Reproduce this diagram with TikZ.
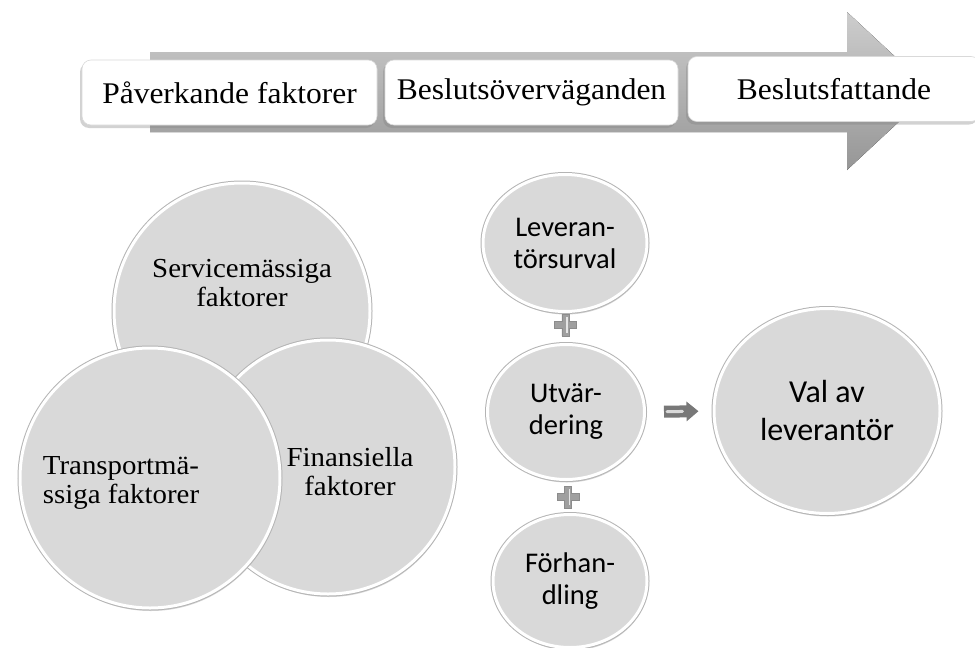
\documentclass[tikz,border=0pt]{standalone}
\usepackage{fontspec}
\usetikzlibrary{shapes.geometric,shadows,arrows.meta,calc}
\newfontfamily\serf[FakeStretch=1.05]{Liberation Serif}
\newfontfamily\sanf{Carlito}
\definecolor{circfill}{RGB}{217,217,217}
\definecolor{arrtop}{RGB}{205,205,205}
\definecolor{arrbot}{RGB}{150,150,150}
\definecolor{rimgray}{RGB}{180,180,180}
\definecolor{darkarr}{RGB}{120,120,120}
\tikzset{
  stagebox/.style={rectangle, rounded corners=9pt, fill=white, draw=gray!30,
    line width=0.6pt,
    drop shadow={shadow xshift=-2pt, shadow yshift=-3pt, opacity=0.35},
    minimum height=65pt, inner sep=0pt,
    font=\serf\fontsize{30}{32}\selectfont},
  ball/.style={circle, drop shadow={shadow xshift=1pt, shadow yshift=-3pt, opacity=0.32},
    preaction={draw=rimgray, line width=5pt},
    fill=circfill, draw=white, line width=3pt, inner sep=0pt},
  egg/.style={ellipse, drop shadow={shadow xshift=1pt, shadow yshift=-3pt, opacity=0.32},
    preaction={draw=rimgray, line width=5pt},
    fill=circfill, draw=white, line width=3pt, inner sep=0pt, align=center},
  balltext/.style={font=\serf\fontsize{27.5}{29}\selectfont, align=center, inner sep=0pt},
  eggtext/.style={font=\sanf\fontsize{28.5}{32}\selectfont},
  bigtext/.style={font=\sanf\fontsize{32}{38}\selectfont},
  plussign/.pic={
    \filldraw[fill=gray!75, draw=gray!90, line width=0.6pt]
      (-3.5,-11) -- (3.5,-11) -- (3.5,-3.5) -- (11,-3.5) -- (11,3.5) -- (3.5,3.5)
      -- (3.5,11) -- (-3.5,11) -- (-3.5,3.5) -- (-11,3.5) -- (-11,-3.5) -- (-3.5,-3.5) -- cycle;
    \draw[white!80!gray, line width=1.5pt] (1.5,-8) -- (1.5,8);
  },
  blockarrow/.style={line width=12pt, draw=darkarr,
    -{Triangle[length=12pt,width=19pt]}},
  blockshine/.style={line width=3pt, draw=gray!30, line cap=round},
}
\begin{document}
\begin{tikzpicture}[x=1pt,y=-1pt]
\clip (0,0) rectangle (975,648);
\fill[white] (0,0) rectangle (975,648);

% big process arrow
\fill[top color=arrtop, bottom color=arrbot]
  (150,52) -- (847,52) -- (847,12) -- (932,91) -- (847,170) -- (847,132) -- (150,132) -- cycle;

% stage boxes
\node[stagebox, minimum width=295pt] (b1) at (229.5,92.5) {Påverkande faktorer};
\node[stagebox, minimum width=293pt] (b2) at (531.5,92.5) {Beslutsöverväganden};
\node[stagebox, minimum width=292pt] (b3) at (834,89) {Beslutsfattande};

% left circle cluster
\node[ball, minimum size=256pt] (serv) at (242,311) {};
\node[ball, minimum size=254pt] (fin) at (328,467) {};
\node[ball, minimum size=260pt] (trans) at (150,478) {};
\node[balltext] (servt) at ($(serv.center)+(0,-28)$) {Servicemässiga\\faktorer};
\node[balltext] (fint) at ($(fin.center)+(22,5)$) {Finansiella\\faktorer};
\node[balltext] (transt) at ($(trans.center)+(-29,5)$) {Transportmä-\\ssiga faktorer};

% right process
\node[egg, eggtext, minimum width=164pt, minimum height=137pt] (lev) at (565,243) {Leveran-\\törsurval};
\node[egg, eggtext, minimum width=157pt, minimum height=135pt] (utv) at (566,412) {Utvär-\\dering};
\node[egg, eggtext, minimum width=154pt, minimum height=133pt] (forh) at (570,581) {Förhan-\\dling};
\node[egg, bigtext, minimum width=226pt, minimum height=205pt] (val) at (827,411) {Val av\\leverantör};

\pic at ($(lev.south)!0.4!(utv.north)$) {plussign};
\pic at ($(utv.south)!0.5!(forh.north)$) {plussign};

\draw[blockarrow, shorten <=18pt, shorten >=14pt] (utv.east) -- (val.west);
\draw[blockshine, shorten <=21pt, shorten >=30pt] (utv.east) -- (val.west);
\end{tikzpicture}
\end{document}
